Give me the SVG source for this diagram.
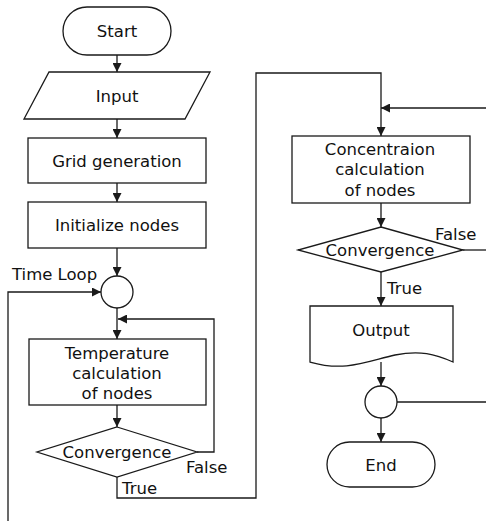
<svg xmlns="http://www.w3.org/2000/svg" width="486" height="521" viewBox="0 0 486 521">
<style>
.s{fill:#fff;stroke:#1a1a1a;stroke-width:1.3}
.c{fill:none;stroke:#1a1a1a;stroke-width:1.3}
text{font-family:"DejaVu Sans","Liberation Sans",sans-serif;font-size:16.5px;fill:#111;text-anchor:middle;dominant-baseline:central}
.l{text-anchor:start}
</style>
<defs>
<marker id="a" viewBox="0 0 10 10" refX="10" refY="5" markerWidth="9" markerHeight="9" markerUnits="userSpaceOnUse" orient="auto">
<path d="M0,0 L10,5 L0,10 Z" fill="#1a1a1a"/>
</marker>
</defs>
<rect width="486" height="521" fill="#fff"/>
<g id="connectors">
<path class="c" d="M117,55 V72" marker-end="url(#a)"/>
<path class="c" d="M117,119 V138" marker-end="url(#a)"/>
<path class="c" d="M117,183 V202" marker-end="url(#a)"/>
<path class="c" d="M117,248 V276" marker-end="url(#a)"/>
<path class="c" d="M8,521 V292 H101" marker-end="url(#a)"/>
<path class="c" d="M117,308 V339" marker-end="url(#a)"/>
<path class="c" d="M117,405 V427" marker-end="url(#a)"/>
<path class="c" d="M197,452 H214 V319 H118" marker-end="url(#a)"/>
<path class="c" d="M117,477 V498 H256 V73 H381 V136" marker-end="url(#a)"/>
<path class="c" d="M486,108 H381" marker-end="url(#a)"/>
<path class="c" d="M381,203 V227" marker-end="url(#a)"/>
<path class="c" d="M463,250 H486"/>
<path class="c" d="M381,272 V306" marker-end="url(#a)"/>
<path class="c" d="M381,362 V386" marker-end="url(#a)"/>
<path class="c" d="M397,402 H486"/>
<path class="c" d="M381,418 V442" marker-end="url(#a)"/>
</g>
<g id="start">
<rect class="s" x="63" y="7" width="108" height="48" rx="24"/>
<text x="117" y="31">Start</text>
</g>
<g id="input">
<polygon class="s" points="49,72 210,72 185,119 24,119"/>
<text x="117" y="96">Input</text>
</g>
<g id="grid">
<rect class="s" x="28" y="138" width="178" height="45"/>
<text x="117" y="161">Grid generation</text>
</g>
<g id="init">
<rect class="s" x="28" y="202" width="178" height="46"/>
<text x="117" y="225">Initialize nodes</text>
</g>
<g id="timeloop">
<circle class="s" cx="117" cy="292" r="16"/>
<text class="l" x="12" y="274">Time Loop</text>
</g>
<g id="temp">
<rect class="s" x="29" y="339" width="177" height="66"/>
<text x="117" y="353">Temperature</text>
<text x="117" y="373">calculation</text>
<text x="117" y="393">of nodes</text>
</g>
<g id="conv1">
<polygon class="s" points="117,427 197,452 117,477 37,452"/>
<text x="117" y="452">Convergence</text>
<text class="l" x="186" y="467">False</text>
<text class="l" x="122" y="488">True</text>
</g>
<g id="conc">
<rect class="s" x="292" y="136" width="178" height="67"/>
<text x="380" y="149">Concentraion</text>
<text x="380" y="169">calculation</text>
<text x="380" y="190">of nodes</text>
</g>
<g id="conv2">
<polygon class="s" points="381,227 463,250 381,272 298,250"/>
<text x="380" y="250">Convergence</text>
<text class="l" x="435" y="234">False</text>
<text class="l" x="387" y="288">True</text>
</g>
<g id="output">
<path class="s" d="M310,306 H453 V362 C435,354 420,350 395,355 C365,362 345,372 310,362 Z"/>
<text x="381" y="330">Output</text>
</g>
<g id="merge">
<circle class="s" cx="381" cy="402" r="16"/>
</g>
<g id="end">
<rect class="s" x="327" y="442" width="108" height="45" rx="22.5"/>
<text x="381" y="465">End</text>
</g>
</svg>
